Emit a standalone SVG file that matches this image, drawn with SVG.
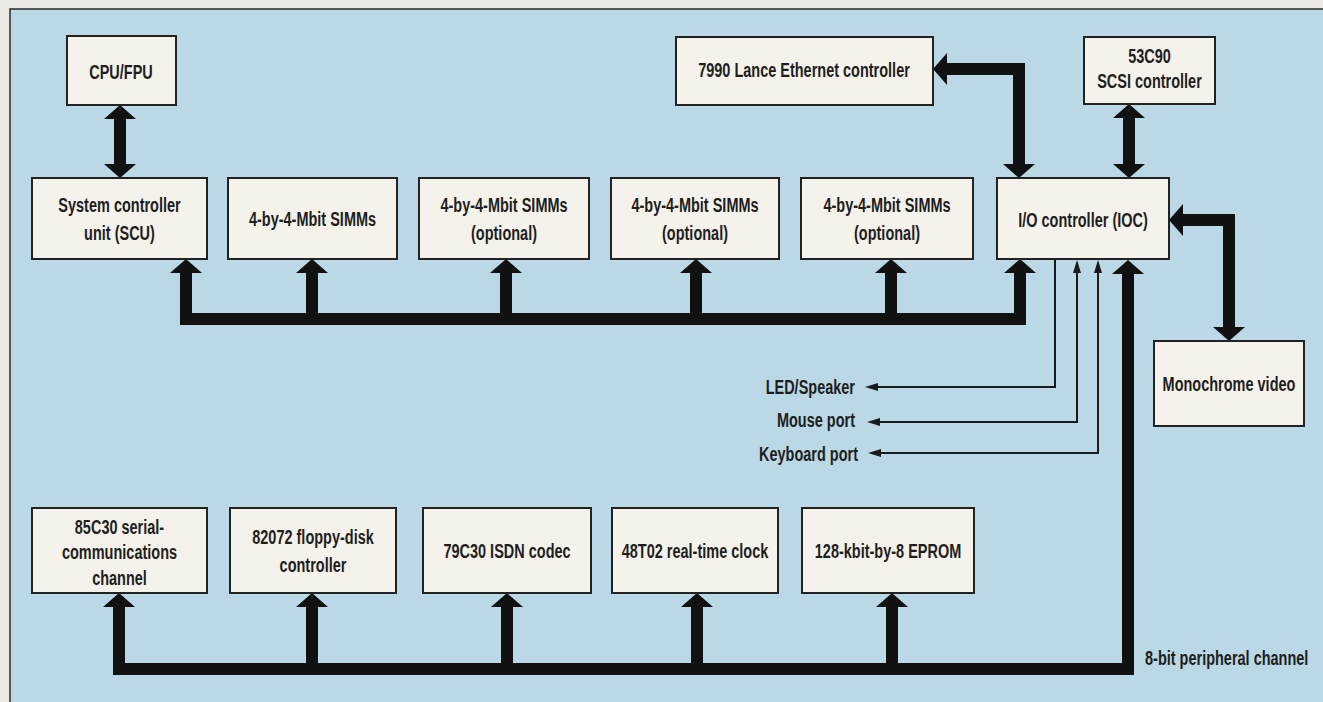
<svg xmlns="http://www.w3.org/2000/svg" width="1323" height="702" viewBox="0 0 1323 702">
  <style>
    .box { fill: #f4f2ea; stroke: #222; stroke-width: 2; }
    .t { font-family: "Liberation Sans", Arial, sans-serif; font-weight: bold; font-size: 21px; fill: #1e1e1e; text-anchor: middle; }
    .ts { font-family: "Liberation Sans", Arial, sans-serif; font-weight: bold; font-size: 21px; fill: #1e1e1e; }
    .bus { fill: none; stroke: #111; stroke-width: 12; stroke-linejoin: miter; stroke-linecap: butt; }
    .thin { fill: none; stroke: #1a1a1a; stroke-width: 2; }
  </style>
  <defs>
    <marker id="big" viewBox="0 0 14 32" refX="0" refY="16" markerWidth="14" markerHeight="32" markerUnits="userSpaceOnUse" orient="auto-start-reverse">
      <path d="M0,0 L14,16 L0,32 Z" fill="#111"/>
    </marker>
    <marker id="small" viewBox="0 0 13 8" refX="0" refY="4" markerWidth="13" markerHeight="8" markerUnits="userSpaceOnUse" orient="auto-start-reverse">
      <path d="M0,0 L13,4 L0,8 Z" fill="#1a1a1a"/>
    </marker>
  </defs>

  <rect x="0" y="0" width="1323" height="702" fill="#ebe9e3"/>
  <rect x="10" y="9" width="1320" height="700" fill="#bad8e5" stroke="#2a2a2a" stroke-width="1.5"/>

  <g id="connectors">
    <!-- CPU <-> SCU -->
    <path class="bus" d="M120,119 V164" marker-start="url(#big)" marker-end="url(#big)"/>
    <!-- system bus -->
    <path class="bus" d="M186,273 V319 H1020 V273" marker-start="url(#big)" marker-end="url(#big)"/>
    <path class="bus" d="M312,319 V273" marker-end="url(#big)"/>
    <path class="bus" d="M506,319 V273" marker-end="url(#big)"/>
    <path class="bus" d="M696,319 V273" marker-end="url(#big)"/>
    <path class="bus" d="M891,319 V273" marker-end="url(#big)"/>
    <!-- Lance <-> IOC -->
    <path class="bus" d="M1019,164 V69 H947" marker-start="url(#big)" marker-end="url(#big)"/>
    <!-- SCSI <-> IOC -->
    <path class="bus" d="M1129,118 V164" marker-start="url(#big)" marker-end="url(#big)"/>
    <!-- IOC <-> Monochrome video -->
    <path class="bus" d="M1183,220 H1229 V327" marker-start="url(#big)" marker-end="url(#big)"/>
    <!-- peripheral channel -->
    <path class="bus" d="M119,607 V669 H1128 V274" marker-start="url(#big)" marker-end="url(#big)"/>
    <path class="bus" d="M312,669 V607" marker-end="url(#big)"/>
    <path class="bus" d="M507,669 V607" marker-end="url(#big)"/>
    <path class="bus" d="M697,669 V607" marker-end="url(#big)"/>
    <path class="bus" d="M892,669 V607" marker-end="url(#big)"/>
    <!-- thin signal lines -->
    <path class="thin" d="M1055,260 V387 H878" marker-end="url(#small)"/>
    <path class="thin" d="M1077,273 V422 H880" marker-start="url(#small)" marker-end="url(#small)"/>
    <path class="thin" d="M1098,273 V453 H881" marker-start="url(#small)" marker-end="url(#small)"/>
  </g>

  <g id="cpu">
    <rect class="box" x="67" y="36" width="109" height="69"/>
    <text class="t" transform="translate(121,79) scale(0.69,1)">CPU/FPU</text>
  </g>
  <g id="scu">
    <rect class="box" x="32" y="178" width="175" height="81"/>
    <text class="t" transform="translate(119.5,212) scale(0.69,1)"><tspan x="0" y="0">System controller</tspan><tspan x="0" y="28">unit (SCU)</tspan></text>
  </g>
  <g id="simm1">
    <rect class="box" x="228" y="178" width="169" height="81"/>
    <text class="t" transform="translate(312.5,226) scale(0.69,1)">4-by-4-Mbit SIMMs</text>
  </g>
  <g id="simm2">
    <rect class="box" x="419" y="178" width="170" height="81"/>
    <text class="t" transform="translate(504,212) scale(0.69,1)"><tspan x="0" y="0">4-by-4-Mbit SIMMs</tspan><tspan x="0" y="28">(optional)</tspan></text>
  </g>
  <g id="simm3">
    <rect class="box" x="611" y="178" width="168" height="81"/>
    <text class="t" transform="translate(695,212) scale(0.69,1)"><tspan x="0" y="0">4-by-4-Mbit SIMMs</tspan><tspan x="0" y="28">(optional)</tspan></text>
  </g>
  <g id="simm4">
    <rect class="box" x="801" y="178" width="172" height="81"/>
    <text class="t" transform="translate(887,212) scale(0.69,1)"><tspan x="0" y="0">4-by-4-Mbit SIMMs</tspan><tspan x="0" y="28">(optional)</tspan></text>
  </g>
  <g id="ioc">
    <rect class="box" x="997" y="178" width="172" height="81"/>
    <text class="t" transform="translate(1083,227) scale(0.69,1)">I/O controller (IOC)</text>
  </g>
  <g id="lance">
    <rect class="box" x="676" y="37" width="257" height="68"/>
    <text class="t" transform="translate(804,77) scale(0.69,1)">7990 Lance Ethernet controller</text>
  </g>
  <g id="scsi">
    <rect class="box" x="1084" y="37" width="131" height="67"/>
    <text class="t" transform="translate(1149.5,63) scale(0.69,1)"><tspan x="0" y="0">53C90</tspan><tspan x="0" y="25">SCSI controller</tspan></text>
  </g>
  <g id="video">
    <rect class="box" x="1154" y="341" width="150" height="85"/>
    <text class="t" transform="translate(1229,391) scale(0.69,1)">Monochrome video</text>
  </g>
  <g id="serial">
    <rect class="box" x="32" y="508" width="175" height="85"/>
    <text class="t" transform="translate(119.5,534) scale(0.69,1)"><tspan x="0" y="0">85C30 serial-</tspan><tspan x="0" y="25">communications</tspan><tspan x="0" y="51">channel</tspan></text>
  </g>
  <g id="floppy">
    <rect class="box" x="230" y="508" width="166" height="85"/>
    <text class="t" transform="translate(313,544) scale(0.69,1)"><tspan x="0" y="0">82072 floppy-disk</tspan><tspan x="0" y="28">controller</tspan></text>
  </g>
  <g id="isdn">
    <rect class="box" x="423" y="508" width="168" height="85"/>
    <text class="t" transform="translate(507,558) scale(0.69,1)">79C30 ISDN codec</text>
  </g>
  <g id="rtc">
    <rect class="box" x="612" y="508" width="166" height="85"/>
    <text class="t" transform="translate(695,558) scale(0.69,1)">48T02 real-time clock</text>
  </g>
  <g id="eprom">
    <rect class="box" x="802" y="508" width="172" height="85"/>
    <text class="t" transform="translate(888,558) scale(0.69,1)">128-kbit-by-8 EPROM</text>
  </g>

  <g id="labels">
    <text class="ts" text-anchor="end" transform="translate(855,394) scale(0.69,1)">LED/Speaker</text>
    <text class="ts" text-anchor="end" transform="translate(855,427) scale(0.69,1)">Mouse port</text>
    <text class="ts" text-anchor="end" transform="translate(858,461) scale(0.69,1)">Keyboard port</text>
    <text class="ts" text-anchor="start" transform="translate(1145,665) scale(0.69,1)">8-bit peripheral channel</text>
  </g>
</svg>
